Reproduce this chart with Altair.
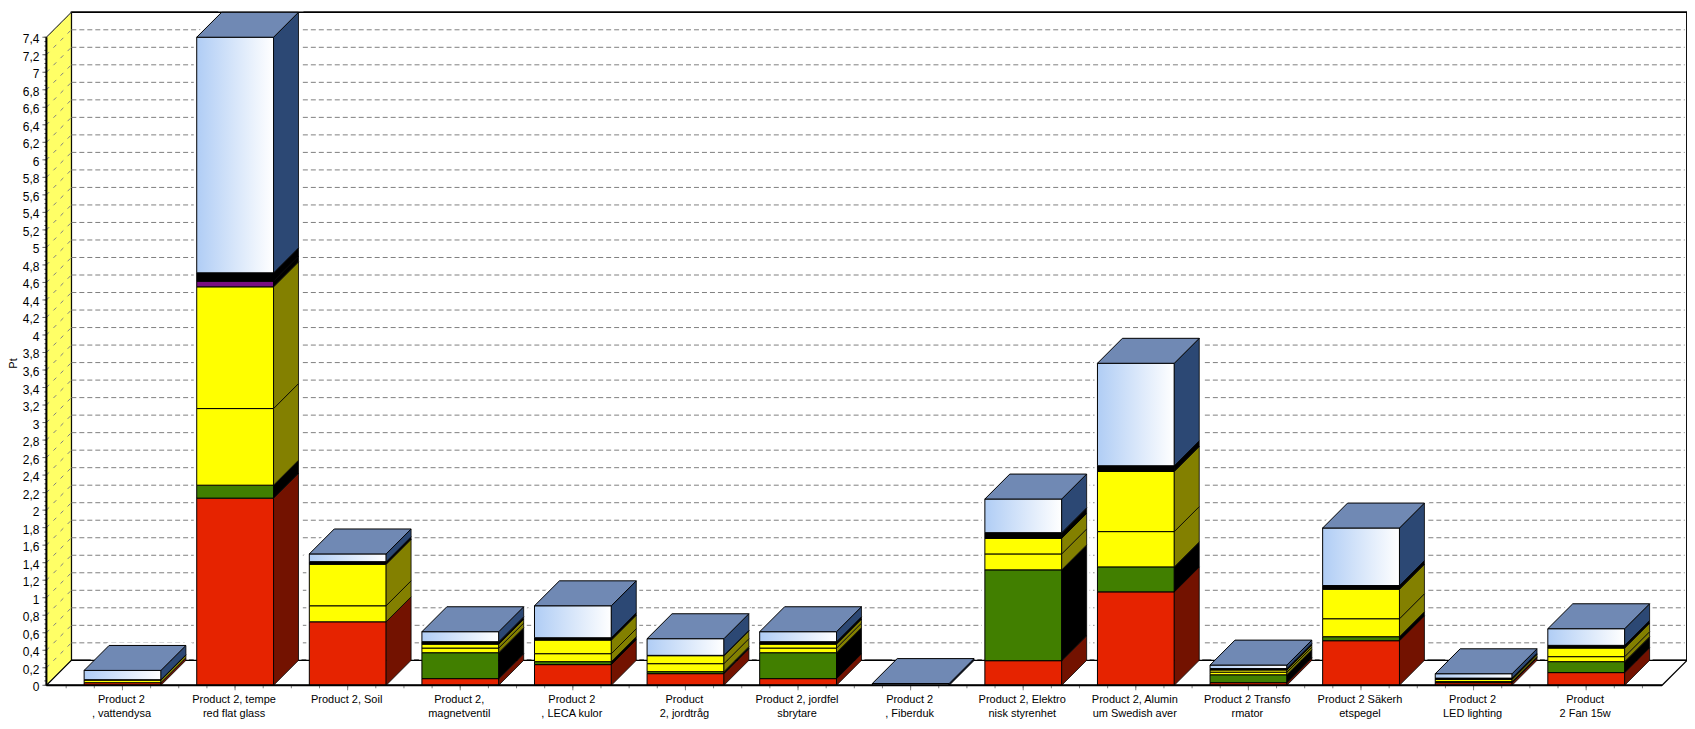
import altair as alt
import pandas as pd

categories = [
    "Product 2\n, vattendysa", "Product 2, tempe\nred flat glass", "Product 2, Soil",
    "Product 2,\nmagnetventil", "Product 2\n, LECA kulor", "Product\n2, jordtråg",
    "Product 2, jordfel\nsbrytare", "Product 2\n, Fiberduk", "Product 2, Elektro\nnisk styrenhet",
    "Product 2, Alumin\num Swedish aver", "Product 2 Transfo\nrmator", "Product 2 Säkerh\netspegel",
    "Product 2\nLED lighting", "Product\n2 Fan 15w",
]
red    = [0.030, 2.137, 0.725, 0.076, 0.236, 0.133, 0.076, 0.002, 0.281, 1.067, 0.030, 0.509, 0.030, 0.145]
green  = [0.000, 0.148, 0.000, 0.296, 0.034, 0.023, 0.296, 0.000, 1.037, 0.285, 0.090, 0.046, 0.012, 0.125]
yellow1 = [0.030, 0.875, 0.183, 0.053, 0.091, 0.091, 0.053, 0.000, 0.182, 0.403, 0.030, 0.205, 0.026, 0.057]
yellow2 = [0.000, 1.390, 0.474, 0.045, 0.155, 0.091, 0.045, 0.000, 0.178, 0.687, 0.025, 0.337, 0.000, 0.098]
purple = [0.000, 0.064, 0.000, 0.000, 0.000, 0.000, 0.000, 0.000, 0.000, 0.000, 0.000, 0.000, 0.000, 0.000]
black  = [0.004, 0.096, 0.030, 0.028, 0.027, 0.004, 0.028, 0.000, 0.065, 0.065, 0.016, 0.042, 0.014, 0.031]
blue   = [0.106, 2.690, 0.088, 0.114, 0.365, 0.190, 0.114, 0.018, 0.384, 1.170, 0.040, 0.657, 0.050, 0.190]
series = [("red", red), ("green", green), ("yellow1", yellow1), ("yellow2", yellow2),
          ("purple", purple), ("black", black), ("blue", blue)]
front_colors = ["#e62300", "#417f00", "#ffff00", "#ffff00", "#7a0f82", "#000000", "#b0cdf5"]
side_colors = ["#731200", "#000000", "#838000", "#838000", "#000000", "#000000", "#2c4874"]
series_names = [s[0] for s in series]

W, H = 1644.2, 674.5
SLOT = 112.84
PX_Y = 649.5 / 7.4
DX = 25 / SLOT
DY = 25 / PX_Y
BAR_W = 77 / SLOT
BAR_OFF = 37.8 / SLOT
SLOT_OFF = 19.8 / SLOT
YTOP = 7.4
XMAX = W / SLOT
FLOOR_R = XMAX - DX

fronts, sides, tops, halo_f, halo_s = [], [], [], [], []
for i in range(len(categories)):
    left = BAR_OFF + i
    right = left + BAR_W
    base = 0.0
    for (name, vals) in series:
        v = vals[i]
        if v <= 0:
            continue
        seg = f"{i}-{name}"
        fronts.append(dict(s=name, x0=left, x1=right, y0=base, y1=base + v))
        sides.append(dict(seg=seg, s=name, x=right, y0=base, y1=base + v))
        sides.append(dict(seg=seg, s=name, x=right + DX, y0=base + DY, y1=base + v + DY))
        base += v
    tops.append(dict(b=i, y=base, x0=left, x1=right))
    tops.append(dict(b=i, y=base + DY, x0=left + DX, x1=right + DX))
    halo_f.append(dict(x0=left, x1=right, y0=0, y1=base))
    halo_s.append(dict(b=i, x=right, y0=0, y1=base))
    halo_s.append(dict(b=i, x=right + DX, y0=DY, y1=base + DY))

tick_vals = [round(0.2 * k, 1) for k in range(38)]
tick_text = [f"{v:g}".replace(".", ",") for v in tick_vals]
minor_vals = [round(0.05 * k, 2) for k in range(149)]
centers = [SLOT_OFF + i + 0.5 for i in range(len(categories))]
x_minor = [SLOT_OFF + k * 0.25 for k in range(len(categories) * 4 + 1)]

xs = alt.Scale(domain=[0, XMAX], range=[0, W], nice=False, zero=False)
ys = alt.Scale(domain=[0, YTOP + DY], range=[H, 0], nice=False, zero=False)


def X(f="x"):
    return alt.X(f, type="quantitative", scale=xs, axis=None, title=None)


def Y(f="y", axis=None):
    return alt.Y(f, type="quantitative", scale=ys, axis=axis, title=None, stack=None)


def X2(f):
    return alt.X2(f)


def Y2(f):
    return alt.Y2(f)


# back wall
back = alt.Chart(pd.DataFrame([dict(x0=DX, x1=XMAX, y0=DY, y1=YTOP + DY)])).mark_rect(
    fill="white", stroke="black", strokeWidth=1.5
).encode(x=X("x0"), x2=X2("x1"), y=Y("y0"), y2=Y2("y1"))

# yellow wall
wall = alt.Chart(pd.DataFrame([dict(x=0, y0=0, y1=YTOP), dict(x=DX, y0=DY, y1=YTOP + DY)])).mark_area(
    fill="#ffff66", stroke="black", strokeWidth=1
).encode(x=X("x"), y=Y("y0"), y2=Y2("y1"))

# wall slanted dashes
diag = pd.DataFrame(
    [dict(t=v, x=0, y=v) for v in tick_vals[1:]] + [dict(t=v, x=DX, y=v + DY) for v in tick_vals[1:]]
)
wall_dash = alt.Chart(diag).mark_line(color="#808080", strokeWidth=1, strokeDash=[4, 6]).encode(
    x=X("x"), y=Y("y"), detail="t:N"
)

# grid on the back wall
grid = alt.Chart(pd.DataFrame([dict(y=v + DY, x0=DX, x1=XMAX - 0.02) for v in tick_vals[1:]])).mark_rule(
    color="#808080", strokeWidth=1, strokeDash=[5, 3]
).encode(x=X("x0"), x2=X2("x1"), y=Y("y"))

# white halo round the bars, which hides the grid just beside them
h_front = alt.Chart(pd.DataFrame(halo_f)).mark_rect(fill="white", stroke="white", strokeWidth=6).encode(
    x=X("x0"), x2=X2("x1"), y=Y("y0"), y2=Y2("y1")
)
h_side = alt.Chart(pd.DataFrame(halo_s)).mark_area(fill="white", stroke="white", strokeWidth=6).encode(
    x=X("x"), y=Y("y0"), y2=Y2("y1"), detail="b:N"
)
h_top = alt.Chart(pd.DataFrame(tops)).mark_area(fill="white", stroke="white", strokeWidth=6, orient="horizontal").encode(
    y=Y("y"), x=alt.X("x0", type="quantitative", scale=xs, axis=None, stack=None), x2=X2("x1"), detail="b:N"
)

# floor
floor = alt.Chart(pd.DataFrame([dict(y=0, x0=0, x1=FLOOR_R), dict(y=DY, x0=DX, x1=XMAX)])).mark_area(
    fill="white", stroke="black", strokeWidth=1.2, orient="horizontal"
).encode(y=Y("y"), x=alt.X("x0", type="quantitative", scale=xs, axis=None, stack=None), x2=X2("x1"))

# right and top frame of back wall
frame = alt.Chart(pd.DataFrame([dict(x=DX, y=YTOP + DY), dict(x=XMAX, y=YTOP + DY), dict(x=XMAX, y=DY)])).mark_line(
    color="black", strokeWidth=1.5
).encode(x=X("x"), y=Y("y"), order="x:Q")

# bars
df_f = pd.DataFrame(fronts)
flat = alt.Chart(df_f[df_f.s != "blue"]).mark_rect(stroke="black", strokeWidth=1).encode(
    x=X("x0"), x2=X2("x1"), y=Y("y0"), y2=Y2("y1"),
    fill=alt.Fill("s:N", scale=alt.Scale(domain=series_names, range=front_colors), legend=None),
)
grad = alt.LinearGradient(
    gradient="linear", x1=0, x2=1, y1=0, y2=0,
    stops=[alt.GradientStop(color="#b0cdf5", offset=0), alt.GradientStop(color="#ffffff", offset=1)],
)
glass = alt.Chart(df_f[df_f.s == "blue"]).mark_rect(fill=grad, stroke="black", strokeWidth=1).encode(
    x=X("x0"), x2=X2("x1"), y=Y("y0"), y2=Y2("y1")
)
side = alt.Chart(pd.DataFrame(sides)).mark_area(stroke="black", strokeWidth=0.8).encode(
    x=X("x"), y=Y("y0"), y2=Y2("y1"), detail="seg:N",
    fill=alt.Fill("s:N", scale=alt.Scale(domain=series_names, range=side_colors), legend=None),
)
top = alt.Chart(pd.DataFrame(tops)).mark_area(fill="#7089b4", stroke="black", strokeWidth=1, orient="horizontal").encode(
    y=Y("y"), x=alt.X("x0", type="quantitative", scale=xs, axis=None, stack=None), x2=X2("x1"), detail="b:N"
)

# axes
y_ticks = alt.Chart(pd.DataFrame({"y": tick_vals})).mark_rule(color="#666", strokeWidth=1).encode(
    y=Y("y"), x=alt.value(-4), x2=alt.value(0)
)
y_labels = alt.Chart(pd.DataFrame({"y": tick_vals, "t": tick_text})).mark_text(
    align="right", baseline="middle", font="Liberation Sans", fontSize=12, color="#000", dy=2,
).encode(y=Y("y"), x=alt.value(-7), text="t:N")
y_title = alt.Chart(pd.DataFrame({"t": ["Pt"]})).mark_text(
    angle=270, align="center", baseline="middle", font="Liberation Sans", fontSize=11, color="#000",
).encode(x=alt.value(-32), y=alt.value(352), text="t:N")
y_minor = alt.Chart(pd.DataFrame({"y": minor_vals})).mark_rule(color="#444", strokeWidth=1).encode(
    y=Y("y"), x=alt.value(-2), x2=alt.value(0)
)
y_line = alt.Chart(pd.DataFrame([dict(x=0, y0=0, y1=YTOP)])).mark_rule(color="black", strokeWidth=2).encode(
    x=X("x"), y=Y("y0"), y2=Y2("y1")
)
x_line = alt.Chart(pd.DataFrame([dict(y=0, x0=0, x1=FLOOR_R)])).mark_rule(color="black", strokeWidth=2).encode(
    y=Y("y"), x=X("x0"), x2=X2("x1")
)
x_major = alt.Chart(pd.DataFrame({"x": centers})).mark_rule(color="#808080").encode(
    x=X("x"), y=alt.value(H), y2=alt.value(H + 5)
)
x_min = alt.Chart(pd.DataFrame({"x": x_minor})).mark_rule(color="#808080").encode(
    x=X("x"), y=alt.value(H), y2=alt.value(H + 3)
)
labels = alt.Chart(pd.DataFrame({"x": centers, "t": categories})).mark_text(
    baseline="top", align="center", lineBreak="\n", lineHeight=13.5, font="Liberation Sans",
    fontSize=11, color="#000", dx=-1,
).encode(x=X("x"), y=alt.value(H + 9), text="t:N")

chart = alt.layer(
    back, wall, wall_dash, grid, h_front, h_side, h_top, floor, frame,
    x_min, x_major, flat, glass, side, top, y_minor, y_ticks, y_line, x_line, y_labels, y_title, labels,
).resolve_scale(fill="independent").properties(
    width=W, height=H,
    padding={"left": 38.5, "top": 3.5, "right": 0, "bottom": 35},
    autosize=alt.AutoSizeParams(type="none"),
).configure_view(stroke=None)

chart.save("out.html", embed_options={"renderer": "svg", "actions": False})
